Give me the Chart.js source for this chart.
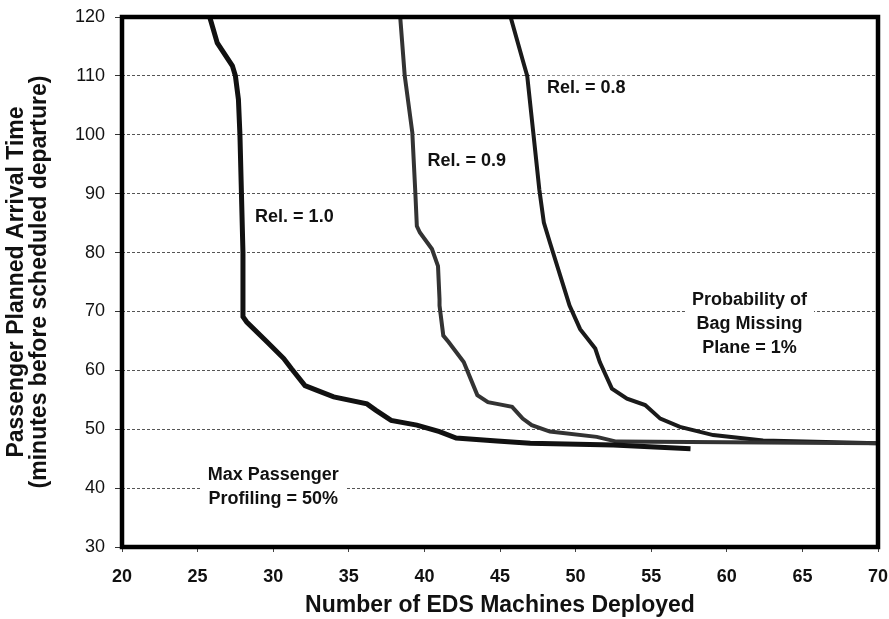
<!DOCTYPE html>
<html>
<head>
<meta charset="utf-8">
<script src="https://cdn.jsdelivr.net/npm/chart.js@4/dist/chart.umd.min.js"></script>
<style>
  html, body { margin: 0; padding: 0; background: #fff; }
  #wrap { width: 889px; height: 619px; }
</style>
</head>
<body>
<div id="wrap"><canvas id="edsChart"></canvas></div>
<script>
// Rel. = 1.0 curve (x = machines, y = minutes)
const rel10X = [25.8, 26.3, 27.3, 27.5, 27.7, 27.8, 27.9, 28.0, 28.0, 28.0, 28.25, 29.6, 30.7, 31.2, 32.1, 32.9, 34.0, 36.2, 36.8, 37.8, 39.5, 41.0, 42.1, 44.8, 47.0, 52.5, 57.6];
const rel10Y = [120, 115.6, 111.7, 110, 106, 100, 90, 80, 72, 69.1, 68.2, 64.8, 62.0, 60.3, 57.4, 56.6, 55.5, 54.3, 53.2, 51.5, 50.7, 49.6, 48.5, 48.0, 47.6, 47.3, 46.7];

// Rel. = 0.9 curve
const rel09X = [38.4, 38.7, 39.2, 39.4, 39.5, 39.7, 40.5, 40.9, 41.0, 41.0, 41.25, 41.6, 42.6, 43.5, 44.2, 44.8, 45.8, 46.5, 47.1, 48.3, 51.4, 52.7, 60.0, 70.0];
const rel09Y = [120, 110, 100.4, 90.2, 84.5, 83.4, 80.6, 77.7, 72.1, 71.0, 65.9, 64.8, 61.4, 55.8, 54.6, 54.3, 53.8, 51.8, 50.7, 49.6, 48.7, 47.9, 47.8, 47.6];

// Rel. = 0.8 curve
const rel08X = [45.7, 46.5, 46.8, 47.2, 47.6, 47.9, 48.3, 49.2, 49.6, 50.3, 51.3, 51.6, 52.4, 53.4, 54.6, 55.6, 56.9, 59.1, 62.4, 70.0];
const rel08Y = [120, 112.7, 110, 100.4, 90.7, 85.1, 81.7, 74.3, 71.0, 67.0, 63.7, 61.4, 56.9, 55.2, 54.1, 51.8, 50.4, 49.0, 48.1, 47.6];

const xTicks = [20, 25, 30, 35, 40, 45, 50, 55, 60, 65, 70];
const yTicks = [30, 40, 50, 60, 70, 80, 90, 100, 110, 120];

// text notes placed in data coordinates
const noteText = [
  ['Rel. = 1.0'],
  ['Rel. = 0.9'],
  ['Rel. = 0.8'],
  ['Probability of', 'Bag Missing', 'Plane = 1%'],
  ['Max Passenger', 'Profiling = 50%']
];
const noteX = [31.4, 42.8, 50.7, 61.5, 30.0];
const noteY = [86.0, 95.5, 108.0, 67.9, 40.1];

function toPoints(xs, ys) {
  return xs.map((x, i) => ({ x: x, y: ys[i] }));
}

const FONT = "'Liberation Sans', Arial, sans-serif";

const framePlugin = {
  id: 'frame',
  afterDatasetsDraw(chart) {
    const ctx = chart.ctx;
    const a = chart.chartArea;
    const xs = chart.scales.x, ys = chart.scales.y;
    ctx.save();
    // notes with white boxes
    ctx.font = 'bold 18px ' + FONT;
    ctx.textAlign = 'center';
    ctx.textBaseline = 'middle';
    noteText.forEach((lines, i) => {
      const cx = xs.getPixelForValue(noteX[i]);
      const cy = ys.getPixelForValue(noteY[i]);
      const lh = 24;
      const w = Math.max(...lines.map(l => ctx.measureText(l).width)) + 14;
      const h = lines.length * lh;
      ctx.fillStyle = '#fff';
      ctx.fillRect(cx - w / 2, cy - h / 2, w, h);
      ctx.fillStyle = '#111';
      lines.forEach((l, j) => {
        ctx.fillText(l, cx, cy - h / 2 + lh / 2 + j * lh);
      });
    });
    // thick frame
    ctx.strokeStyle = '#000';
    ctx.lineWidth = 4.5;
    ctx.strokeRect(a.left, a.top, a.right - a.left, a.bottom - a.top);
    ctx.restore();
  }
};

const ctx = document.getElementById('edsChart');
new Chart(ctx, {
  type: 'scatter',
  data: {
    datasets: [
      { label: 'Rel. = 1.0', data: toPoints(rel10X, rel10Y), showLine: true, borderColor: '#111', borderWidth: 5, pointRadius: 0, tension: 0 },
      { label: 'Rel. = 0.9', data: toPoints(rel09X, rel09Y), showLine: true, borderColor: '#333', borderWidth: 4, pointRadius: 0, tension: 0 },
      { label: 'Rel. = 0.8', data: toPoints(rel08X, rel08Y), showLine: true, borderColor: '#1a1a1a', borderWidth: 4, pointRadius: 0, tension: 0 }
    ]
  },
  options: {
    responsive: true,
    maintainAspectRatio: false,
    animation: false,
    layout: { padding: { top: 17, right: 11, left: 0, bottom: 0 } },
    plugins: {
      legend: { display: false },
      tooltip: { enabled: false }
    },
    scales: {
      x: {
        type: 'linear',
        min: 20, max: 70,
        afterBuildTicks(scale) { scale.ticks = xTicks.map(v => ({ value: v })); },
        afterFit(scale) { scale.height = 72; scale.paddingLeft = 0; scale.paddingRight = 0; },
        grid: { display: true, drawOnChartArea: false, tickLength: 5, color: '#444', lineWidth: 1 },
        border: { display: false },
        ticks: { color: '#111', font: { family: FONT, size: 18, weight: 'bold' }, padding: 14, maxRotation: 0 },
        title: { display: true, text: 'Number of EDS Machines Deployed', color: '#111', font: { family: FONT, size: 23, weight: 'bold', lineHeight: 1.0 }, padding: { top: 0, bottom: 2 } }
      },
      y: {
        type: 'linear',
        min: 30, max: 120,
        afterBuildTicks(scale) { scale.ticks = yTicks.map(v => ({ value: v })); },
        afterFit(scale) { scale.width = 122; scale.paddingTop = 0; scale.paddingBottom = 0; },
        grid: {
          color: '#555', lineWidth: 1, tickLength: 7,
          tickColor: '#333'
        },
        border: { display: false, dash: [3, 2] },
        ticks: { color: '#111', font: { family: FONT, size: 18 }, padding: 10 },
        title: {
          display: true,
          text: ['Passenger Planned Arrival Time', '(minutes before scheduled departure)'],
          color: '#111', font: { family: FONT, size: 23, weight: 'bold', lineHeight: 1.0 }, padding: { top: 5, bottom: 0 }
        }
      }
    }
  },
  plugins: [framePlugin]
});
</script>
</body>
</html>
